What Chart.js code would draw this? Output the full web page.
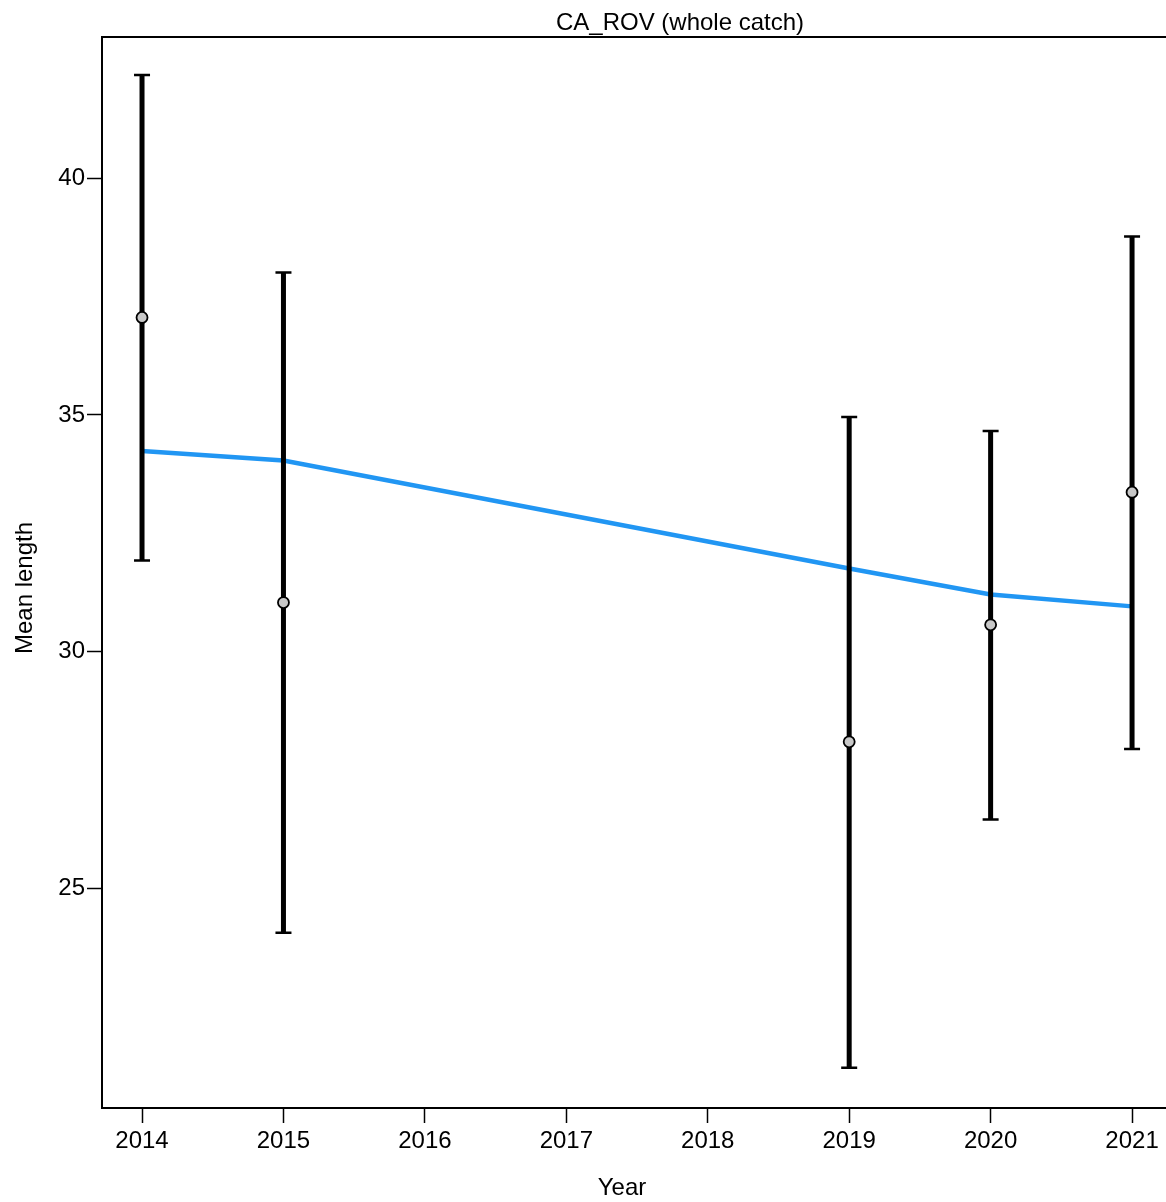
<!DOCTYPE html>
<html>
<head>
<meta charset="utf-8">
<script src="https://cdn.jsdelivr.net/npm/chart.js@4.4.1/dist/chart.umd.min.js"></script>
<style>
  body { margin: 0; background: #fff; }
  #chart { display: block; }
</style>
</head>
<body>
<canvas id="chart" width="1166" height="1202"></canvas>
<script>
// observed mean length by year, with interval ends
const years = [2014, 2015, 2019, 2020, 2021];
const meanLength = [37.06, 31.04, 28.10, 30.57, 33.37];
const upperLength = [42.18, 38.01, 34.96, 34.66, 38.77];
const lowerLength = [31.93, 24.07, 21.22, 26.46, 27.95];
// expected (fitted) mean length
const fitLength = [34.24, 34.04, 31.76, 31.21, 30.96];

const yearTicks = [2014, 2015, 2016, 2017, 2018, 2019, 2020, 2021];
const lengthTicks = [25, 30, 35, 40];

const FONT = "'Liberation Sans', Arial, sans-serif";

// black intervals go over the blue line but under the dots
const errorBars = {
    id: 'errorBars',
    afterDatasetDraw(chart, args) {
        if (args.index !== 0) return;
        const ctx = chart.ctx;
        const x = chart.scales.x;
        const y = chart.scales.y;
        ctx.save();
        ctx.strokeStyle = '#000';
        for (let i = 0; i < years.length; i++) {
            const px = x.getPixelForValue(years[i]);
            const top = y.getPixelForValue(upperLength[i]);
            const bot = y.getPixelForValue(lowerLength[i]);
            ctx.lineWidth = 5;
            ctx.beginPath();
            ctx.moveTo(px, top);
            ctx.lineTo(px, bot);
            ctx.stroke();
            ctx.lineWidth = 2.5;
            ctx.beginPath();
            ctx.moveTo(px - 8, top);
            ctx.lineTo(px + 8, top);
            ctx.moveTo(px - 8, bot);
            ctx.lineTo(px + 8, bot);
            ctx.stroke();
        }
        ctx.restore();
    }
};

const frameAndText = {
    id: 'frameAndText',
    afterDraw(chart) {
        const ctx = chart.ctx;
        const a = chart.chartArea;
        ctx.save();
        // top border of the box
        ctx.strokeStyle = '#000';
        ctx.lineWidth = 2;
        ctx.beginPath();
        ctx.moveTo(a.left, a.top);
        ctx.lineTo(a.right, a.top);
        ctx.stroke();

        ctx.fillStyle = '#000';
        ctx.font = '24px ' + FONT;
        ctx.textAlign = 'center';
        ctx.textBaseline = 'middle';
        ctx.fillText('CA_ROV (whole catch)', 680, 23);
        ctx.fillText('Year', 622, 1188);
        ctx.translate(25, 588);
        ctx.rotate(-Math.PI / 2);
        ctx.fillText('Mean length', 0, 0);
        ctx.restore();
    }
};

new Chart(document.getElementById('chart'), {
    type: 'line',
    data: {
        datasets: [
            {
                label: 'Expected',
                data: years.map((yr, i) => ({ x: yr, y: fitLength[i] })),
                borderColor: '#2196F3',
                borderWidth: 4.5,
                pointRadius: 0,
                tension: 0,
                fill: false,
                order: 2
            },
            {
                label: 'Observed',
                data: years.map((yr, i) => ({ x: yr, y: meanLength[i] })),
                showLine: false,
                pointRadius: 5.5,
                pointBackgroundColor: '#c8c8c8',
                pointBorderColor: '#000',
                pointBorderWidth: 1.8,
                order: 1
            }
        ]
    },
    options: {
        responsive: false,
        animation: false,
        events: [],
        layout: {
            autoPadding: false,
            padding: { top: 37, right: 0, left: 0, bottom: 0 }
        },
        plugins: {
            legend: { display: false },
            title: { display: false },
            tooltip: { enabled: false }
        },
        scales: {
            x: {
                type: 'linear',
                min: 2013.717,
                max: 2021.24,
                afterBuildTicks(scale) {
                    scale.ticks = yearTicks.map(v => ({ value: v }));
                },
                afterFit(scale) {
                    scale.height = 94;
                    // the last label may run past the edge, like the original
                    scale.getPadding = () => ({ left: 0, right: 0, top: 0, bottom: 0 });
                },
                grid: {
                    drawOnChartArea: false,
                    tickLength: 15,
                    tickColor: '#000',
                    tickWidth: 1.5
                },
                border: { color: '#000', width: 2 },
                ticks: {
                    color: '#000',
                    font: { family: FONT, size: 24 },
                    padding: 4,
                    maxRotation: 0,
                    autoSkip: false,
                    callback: v => String(v)
                }
            },
            y: {
                type: 'linear',
                min: 20.37,
                max: 42.98,
                afterBuildTicks(scale) {
                    scale.ticks = lengthTicks.map(v => ({ value: v }));
                },
                afterFit(scale) { scale.width = 102; },
                grid: {
                    drawOnChartArea: false,
                    tickLength: 15,
                    tickColor: '#000',
                    tickWidth: 1.5
                },
                border: { color: '#000', width: 2 },
                ticks: {
                    color: '#000',
                    font: { family: FONT, size: 24 },
                    padding: 2,
                    callback: v => String(v)
                }
            }
        }
    },
    plugins: [errorBars, frameAndText]
});
</script>
</body>
</html>
